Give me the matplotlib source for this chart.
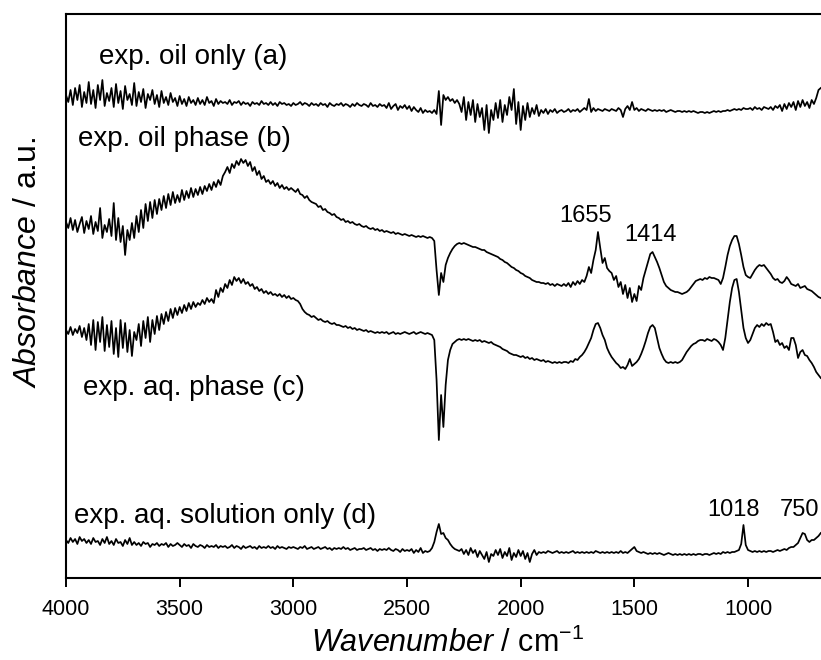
import numpy as np
import matplotlib
matplotlib.use("Agg")
import matplotlib.pyplot as plt

plt.rcParams['font.family'] = ['Liberation Sans', 'DejaVu Sans']
plt.rcParams['mathtext.fontset'] = 'custom'
plt.rcParams['mathtext.rm'] = 'Liberation Sans'
plt.rcParams['mathtext.it'] = 'Liberation Sans:italic'

# ---- data (absorbance, arbitrary offset units), sampled every 10 cm-1 from 4000 to 680 ----
oil_only_a = [
    505, 498, 510, 495, 512, 500, 515, 493, 508, 497,
    518, 496, 510, 492, 515, 500, 520, 494, 507, 499,
    512, 493, 516, 497, 509, 491, 514, 500, 506, 495,
    517, 494, 508, 498, 511, 492, 506, 500, 510, 496,
    505, 493, 509, 497, 503, 495, 507, 498, 502, 494,
    504, 496, 501, 494, 503, 497, 500, 495, 502, 496,
    500, 495, 503, 497, 499, 494, 501, 496, 499, 497,
    498, 496, 500, 495, 498, 497, 499, 495, 498, 496,
    497, 494, 498, 496, 497, 495, 499, 496, 497, 495,
    498, 495, 497, 494, 498, 496, 497, 495, 496, 494,
    497, 495, 496, 498, 495, 497, 496, 494, 497, 495,
    496, 494, 497, 495, 496, 493, 497, 495, 494, 496,
    495, 497, 494, 496, 495, 493, 496, 494, 497, 495,
    494, 496, 495, 493, 497, 494, 495, 493, 496, 494,
    495, 492, 497, 491, 494, 496, 490, 494, 492, 495,
    491, 494, 489, 493, 490, 488, 492, 487, 490, 488,
    489, 487, 490, 486, 509, 475, 505, 500, 503, 499,
    501, 497, 500, 496, 488, 503, 480, 498, 485, 500,
    478, 496, 483, 492, 470, 495, 467, 490, 480, 497,
    482, 500, 478, 495, 485, 503, 490, 511, 476, 498,
    470, 494, 480, 497, 483, 492, 486, 495, 484, 490,
    487, 491, 486, 490, 488, 491, 487, 489, 490, 488,
    489, 491, 488, 490, 489, 491, 488, 490, 492, 490,
    501, 488, 492, 489, 491, 490, 489, 491, 490, 489,
    491, 490, 489, 492, 490, 483, 491, 494, 490, 498,
    490, 492, 489, 491, 490, 489, 491, 490, 489, 490,
    489, 490, 489, 490, 488, 489, 490, 489, 488, 489,
    489, 488, 489, 488, 489, 488, 489, 488, 487, 488,
    488, 487, 488, 487, 488, 489, 488, 489, 488, 489,
    489, 490, 489, 490, 491, 490, 491, 490, 492, 491,
    491, 492, 490, 493, 491, 492, 490, 493, 492, 491,
    493, 490, 494, 492, 495, 489, 496, 491, 497, 493,
    498, 490, 499, 493, 500, 494, 498, 492, 500, 496,
    502, 510, 512,
]

oil_phase_b = [
    378, 372, 382, 370, 380, 368, 376, 383, 367, 379,
    371, 384, 366, 378, 369, 392, 362, 375, 368, 381,
    364, 397, 360, 382, 358, 374, 345, 370, 360, 377,
    362, 384, 368, 390, 372, 396, 379, 398, 382, 400,
    386, 401, 390, 404, 392, 406, 395, 408, 397, 405,
    398, 410, 400, 409, 402, 412, 403, 411, 405, 413,
    406, 414, 409, 416, 410, 418, 413, 420, 415, 424,
    428, 433, 427, 436, 432, 439, 435, 441, 437, 440,
    434, 438, 429, 433, 425, 429, 421, 424, 418, 420,
    416, 419, 414, 417, 412, 415, 411, 413, 410, 412,
    410, 408, 411, 406, 405, 402, 404, 400, 398, 397,
    396, 393, 394, 390, 391, 388, 387, 385, 386, 383,
    382, 380, 381, 378, 379, 377, 378, 376, 375, 376,
    374, 373, 374, 372, 371, 372, 370, 371, 369, 370,
    368, 369, 368, 367, 368, 366, 367, 366, 365, 366,
    365, 364, 365, 364, 363, 364, 363, 364, 363, 362,
    363, 362, 359, 330, 305, 327, 318, 335, 342, 347,
    351, 354, 356, 357, 356, 357, 356, 355, 354, 353,
    353, 352, 351, 350, 350, 348, 347, 346, 345, 344,
    343, 341, 340, 338, 337, 335, 333, 332, 330, 329,
    327, 326, 324, 323, 322, 320, 319, 318, 318, 317,
    317, 316, 317, 315, 316, 314, 316, 315, 314, 316,
    314, 317, 313, 318, 315, 319, 316, 320, 318, 324,
    333, 327, 340, 350, 368, 352, 337, 342, 332, 329,
    327, 320, 324, 313, 318, 306, 315, 302, 312, 298,
    306, 299, 314, 310, 322, 330, 338, 346, 348, 343,
    338, 332, 325, 318, 314, 312, 310, 309, 308, 308,
    307, 306, 307, 308, 310, 313, 316, 319, 320, 321,
    320, 322, 321, 323, 322, 322, 321, 320, 316, 322,
    333, 345, 354, 360, 364, 364, 356, 345, 333, 325,
    323, 322, 326, 330, 333, 335, 334, 335, 332, 329,
    326, 322, 320, 321, 318, 317, 319, 323, 320, 316,
    315, 314, 316, 312, 313, 314, 311, 310, 309, 307,
    305, 303, 302,
]

aq_phase_c = [
    270, 266, 273, 265, 271, 267, 274, 263, 272, 260,
    276, 255, 280, 250, 278, 258, 283, 249, 275, 253,
    279, 246, 272, 243, 280, 252, 277, 248, 270, 244,
    268, 260, 276, 254, 279, 262, 283, 258, 280, 266,
    284, 270, 286, 276, 288, 279, 291, 282, 292, 285,
    293, 287, 295, 289, 297, 291, 298, 293, 297, 295,
    300, 296, 302, 298, 301, 297, 310, 303, 312, 308,
    316, 312, 320, 315, 323, 319, 322, 317, 321, 316,
    318, 314, 316, 311, 313, 309, 311, 307, 309, 306,
    308, 305, 306, 304, 306, 303, 305, 302, 304, 301,
    302, 300, 299, 296, 291, 288, 286, 285, 283, 284,
    282, 280, 281, 279, 278, 279, 277, 276, 277, 275,
    275, 274, 273, 274, 272, 273, 271, 272, 270, 271,
    270, 269, 270, 268, 269, 268, 267, 268, 267, 268,
    267, 268, 266, 267, 268, 266, 267, 266, 267, 268,
    267, 266, 267, 268, 266, 267, 268, 267, 266, 267,
    266, 265, 260, 220, 160, 205, 173, 215, 240, 250,
    256, 258, 260, 261, 260, 261, 260, 261, 260, 259,
    260, 259, 260, 258, 259, 258, 257, 258, 256, 255,
    254, 253, 251, 250, 249, 247, 246, 245, 245, 244,
    243, 244, 242, 243, 241, 242, 240, 241, 240, 239,
    240, 238, 239, 238, 237, 238, 237, 238, 237, 238,
    238, 237, 239, 238, 241, 240, 243, 245, 248, 252,
    257, 262, 270, 276, 277, 272, 265, 260, 252, 247,
    243, 240, 237, 235, 232, 233, 231, 235, 241, 234,
    236, 238, 241, 246, 252, 259, 267, 273, 275, 272,
    262, 252, 246, 241, 238, 237, 238, 237, 238, 237,
    238, 240, 244, 248, 251, 254, 256, 257, 259, 260,
    260, 259, 261, 260, 259, 261, 260, 258, 255, 250,
    262, 280, 298, 312, 320, 321, 308, 290, 272, 262,
    257, 260, 266, 272, 275, 273, 276, 274, 277, 275,
    276, 268, 258, 260, 255, 257, 252, 254, 250, 262,
    262, 255, 242, 248, 250, 245, 244, 240, 237, 233,
    228, 225, 222,
]

aq_solution_d = [
    60, 57, 62, 58, 61, 56, 63, 59, 61, 57,
    60, 56, 62, 58, 59, 55, 61, 57, 63, 56,
    59, 55, 61, 57, 58, 54, 60, 56, 62, 55,
    58, 55, 57, 54, 58, 56, 57, 53, 56, 55,
    57, 54, 56, 55, 57, 53, 56, 54, 55, 57,
    55, 53, 56, 54, 55, 52, 56, 54, 53, 55,
    54, 52, 55, 53, 54, 53, 55, 52, 54, 53,
    54, 52, 53, 55, 52, 54, 53, 51, 54, 52,
    53, 54, 52, 53, 51, 54, 52, 53, 52, 54,
    52, 53, 51, 54, 52, 53, 52, 51, 53, 52,
    53, 52, 51, 53, 52, 54, 51, 52, 53, 51,
    52, 53, 51, 52, 53, 51, 52, 50, 52, 51,
    52, 51, 53, 51, 52, 50, 51, 52, 50, 51,
    51, 52, 50, 51, 52, 50, 51, 49, 51, 50,
    51, 50, 52, 50, 49, 51, 50, 48, 51, 49,
    50, 49, 51, 47, 50, 48, 52, 47, 49, 48,
    49, 52, 58, 68, 76, 66, 67, 62, 60, 56,
    53, 51, 50, 49, 51, 46, 50, 45, 52, 47,
    50, 43, 49, 45, 41, 48, 38, 46, 44, 50,
    45, 51, 42, 48, 44, 52, 40, 47, 43, 50,
    44, 49, 41, 47, 38, 46, 50, 45, 48, 47,
    48, 47, 49, 48, 47, 48, 49, 47, 48, 47,
    48, 47, 48, 49, 47, 48, 47, 48, 47, 48,
    47, 48, 47, 49, 48, 47, 48, 47, 48, 47,
    48, 47, 48, 47, 49, 47, 48, 47, 49, 51,
    53, 49, 48, 47, 48, 47, 46, 47, 46, 47,
    46, 47, 46, 45, 46, 47, 46, 45, 46, 45,
    46, 45, 46, 45, 46, 45, 46, 45, 46, 46,
    45, 46, 46, 45, 46, 47, 46, 47, 46, 48,
    47, 48, 47, 48, 48, 49, 50, 56, 75, 55,
    50, 49, 48, 49, 48, 49, 48, 49, 48, 49,
    49, 48, 49, 50, 49, 50, 51, 50, 52, 53,
    53, 55, 57, 62, 67, 66, 60, 58, 60, 60,
    62, 64, 67,
]

series = [oil_only_a, oil_phase_b, aq_phase_c, aq_solution_d]

curve_labels = ["exp. oil only (a)", "exp. oil phase (b)",
                "exp. aq. phase (c)", "exp. aq. solution only (d)"]
curve_label_pos = [(3856, 543), (3949, 461), (3927, 212), (3967, 84)]
peak_labels = ["1655", "1414", "1018", "750"]
peak_label_pos = [(1713, 384), (1427, 365), (1062, 90), (862, 90)]
peak_label_ha = ["center", "center", "center", "left"]
xticks = [4000, 3500, 3000, 2500, 2000, 1500, 1000]

# ---- figure ----
fig = plt.figure(figsize=(8.21, 6.6), dpi=100)
W, H = 821, 660
ax = fig.add_axes([66 / W, (H - 578) / H, (W - 66) / W, (578 - 14) / H])

for vals in series:
    wn = np.linspace(4000, 680, len(vals))
    ax.plot(wn, vals, color='black', lw=1.25)

ax.set_xlim(4000, 679)
ax.set_ylim(22, 586)
ax.set_yticks([])
ax.set_xticks(xticks)
ax.set_xticklabels([str(t) for t in xticks])
ax.tick_params(axis='x', direction='out', length=6.5, width=1.4, pad=8.5, labelsize=15.5)
for side in ['left', 'bottom', 'top']:
    ax.spines[side].set_linewidth(1.5)
ax.spines['right'].set_visible(False)

for txt, (x, y) in zip(curve_labels, curve_label_pos):
    ax.text(x, y, txt, fontsize=20, ha='left', va='center')
for txt, (x, y), ha in zip(peak_labels, peak_label_pos, peak_label_ha):
    ax.text(x, y, txt, fontsize=17, ha=ha, va='center')

fig.text(448 / W, 1 - 643 / H, r'$\mathit{Wavenumber}$ / cm$^{-1}$',
         fontsize=22, ha='center', va='center')
fig.text(28 / W, 1 - 262 / H, r'$\mathit{Absorbance}$ / a.u.',
         fontsize=23, ha='center', va='center', rotation=90)

fig.savefig('out.png', dpi=100)
